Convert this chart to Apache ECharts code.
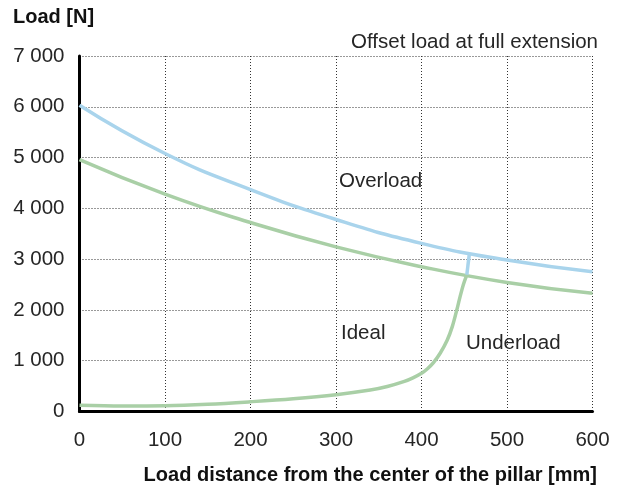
<!DOCTYPE html>
<html>
<head>
<meta charset="utf-8">
<script src="https://cdn.jsdelivr.net/npm/echarts@6/dist/echarts.min.js"></script>
<style>
html,body{margin:0;padding:0;background:#fff;}
#chart{width:622px;height:493px;}
</style>
</head>
<body>
<div id="chart"></div>
<script>
// ---- data ----
var xTicks = [0, 100, 200, 300, 400, 500, 600];
var yTicks = [0, 1000, 2000, 3000, 4000, 5000, 6000, 7000];

// Overload boundary (blue)
var overX = [0, 100, 200, 300, 400, 500, 600];
var overY = [6030, 5080, 4370, 3780, 3310, 2980, 2750];

// Ideal upper boundary (green)
var idealX = [0, 100, 200, 300, 400, 500, 600];
var idealY = [4960, 4280, 3720, 3240, 2850, 2540, 2327];

// Underload boundary (green, lower curve)
var underX = [0, 50, 100, 150, 200, 250, 300, 340, 360, 380, 390, 400, 407, 414, 422, 430, 436, 441, 445, 449, 453];
var underY = [120, 105, 110, 140, 190, 250, 330, 420, 490, 590, 660, 750, 840, 960, 1150, 1400, 1670, 1980, 2250, 2500, 2690];

// Short blue link from the ideal curve to the overload curve
var linkX = [453, 456];
var linkY = [2690, 3110];

var labels = { yTitle: 'Load [N]', xTitle: 'Load distance from the center of the pillar [mm]',
  note: 'Offset load at full extension', over: 'Overload', ideal: 'Ideal', under: 'Underload' };

function pairs(xs, ys) { return xs.map(function (x, i) { return [x, ys[i]]; }); }
function fmt(v) { return String(v).replace(/\B(?=(\d{3})+(?!\d))/g, ' '); }

var BLUE = '#a9d4ec';
var GREEN = '#a9cfa6';
var FONT = 'Liberation Sans, Arial, sans-serif';
var TXT = '#262626';

var chart = echarts.init(document.getElementById('chart'));
chart.setOption({
  animation: false,
  backgroundColor: '#fff',
  grid: { left: 79.5, right: 29.5, top: 56, bottom: 81.6, containLabel: false },
  xAxis: {
    type: 'value', min: xTicks[0], max: xTicks[xTicks.length - 1], interval: 100,
    axisLine: { show: true, onZero: false, lineStyle: { color: '#000', width: 3 } },
    axisTick: { show: false },
    axisLabel: { color: TXT, fontSize: 20.5, fontFamily: FONT, margin: 18, formatter: fmt },
    splitLine: { show: true, lineStyle: { color: '#333', width: 1, type: [1, 2] } }
  },
  yAxis: {
    type: 'value', min: yTicks[0], max: yTicks[yTicks.length - 1], interval: 1000,
    axisLine: { show: true, onZero: false, lineStyle: { color: '#000', width: 3 } },
    axisTick: { show: false },
    axisLabel: { color: TXT, fontSize: 20.5, fontFamily: FONT, margin: 15, formatter: fmt },
    splitLine: { show: true, lineStyle: { color: '#333', width: 1, type: [1, 2] } }
  },
  series: [
    { type: 'line', data: pairs(idealX, idealY), smooth: 0.5, showSymbol: false,
      lineStyle: { color: GREEN, width: 3.5 }, z: 3 },
    { type: 'line', data: pairs(underX, underY), smooth: 0.35, smoothConstraint: false, showSymbol: false,
      lineStyle: { color: GREEN, width: 3.5 }, z: 3 },
    { type: 'line', data: pairs(overX, overY), smooth: 0.5, showSymbol: false,
      lineStyle: { color: BLUE, width: 3.5 }, z: 4 },
    { type: 'line', data: pairs(linkX, linkY), showSymbol: false,
      lineStyle: { color: BLUE, width: 3.5 }, z: 4 }
  ],
  graphic: [
    { type: 'text', x: 13, y: 17, style: { text: labels.yTitle, font: 'bold 20px ' + FONT, fill: '#111', align: 'left', verticalAlign: 'middle' } },
    { type: 'text', x: 598, y: 42, style: { text: labels.note, font: '20.5px ' + FONT, fill: TXT, align: 'right', verticalAlign: 'middle' } },
    { type: 'text', x: 597, y: 475, style: { text: labels.xTitle, font: 'bold 20px ' + FONT, fill: '#111', align: 'right', verticalAlign: 'middle' } },
    { type: 'text', x: 339, y: 181, style: { text: labels.over, font: '20.5px ' + FONT, fill: TXT, align: 'left', verticalAlign: 'middle' } },
    { type: 'text', x: 341, y: 333, style: { text: labels.ideal, font: '20.5px ' + FONT, fill: TXT, align: 'left', verticalAlign: 'middle' } },
    { type: 'text', x: 466, y: 343, style: { text: labels.under, font: '20.5px ' + FONT, fill: TXT, align: 'left', verticalAlign: 'middle' } }
  ]
});
</script>
</body>
</html>
